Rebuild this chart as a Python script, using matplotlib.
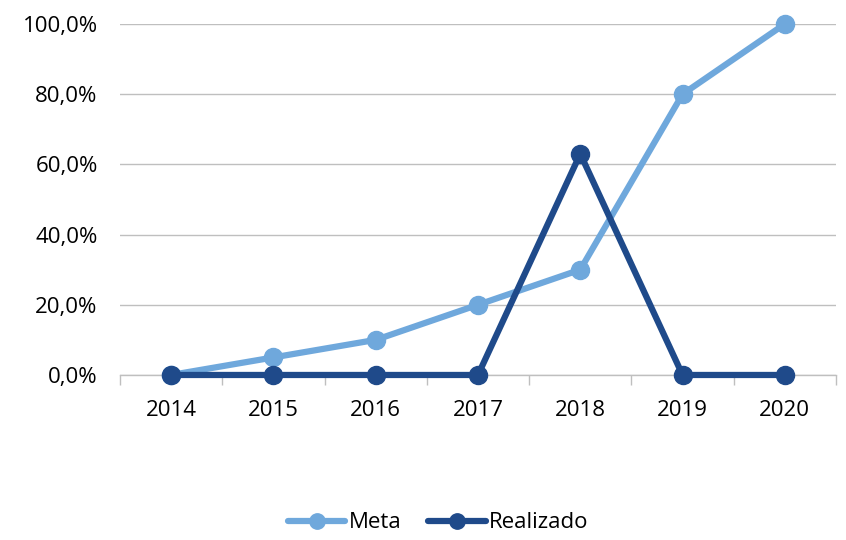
import matplotlib
matplotlib.use("Agg")
import matplotlib.pyplot as plt
from matplotlib.ticker import FuncFormatter, FixedLocator

years = ["2014", "2015", "2016", "2017", "2018", "2019", "2020"]
meta = [0, 5, 10, 20, 30, 80, 100]
realizado = [0, 0, 0, 0, 63, 0, 0]

plt.rcParams['font.family'] = ['Open Sans', 'DejaVu Sans']

fig = plt.figure(figsize=(8.46, 5.40), dpi=100)
ax = fig.add_axes([0.1418, 0.3056, 0.9882 - 0.1418, 0.9556 - 0.3056])

x = list(range(len(years)))
c_meta = "#6FA8DC"
c_real = "#1F4A8A"
ax.plot(x, meta, color=c_meta, lw=4.5, marker="o", ms=13, label="Meta", zorder=3,
        solid_capstyle="round", clip_on=False)
ax.plot(x, realizado, color=c_real, lw=4.5, marker="o", ms=13, label="Realizado", zorder=4,
        solid_capstyle="round", clip_on=False)

ax.set_xlim(-0.5, len(years) - 0.5)
ax.set_ylim(0, 100)
ax.set_yticks([0, 20, 40, 60, 80, 100])
ax.yaxis.set_major_formatter(FuncFormatter(lambda v, p: f"{v:.1f}%".replace(".", ",")))
ax.grid(axis="y", color="#BFBFBF", lw=1)
ax.set_axisbelow(True)
for s in ["top", "right", "left"]:
    ax.spines[s].set_visible(False)
ax.spines["bottom"].set_color("#BFBFBF")
ax.spines["bottom"].set_linewidth(1)
ax.tick_params(axis="y", length=0, labelsize=16, pad=16)

ax.set_xticks(x)
ax.set_xticklabels(years)
ax.tick_params(axis="x", which="major", length=0, labelsize=16, pad=18)
ax.xaxis.set_minor_locator(FixedLocator([i - 0.5 for i in range(len(years) + 1)]))
ax.tick_params(axis="x", which="minor", length=7, color="#BFBFBF", width=1)

fig.legend(loc="lower center", bbox_to_anchor=(0.518, -0.025), ncol=2, frameon=False,
           fontsize=16, handlelength=2.6, handletextpad=0.15, columnspacing=1.2,
           markerscale=0.85)

fig.savefig("out.png", dpi=100)
